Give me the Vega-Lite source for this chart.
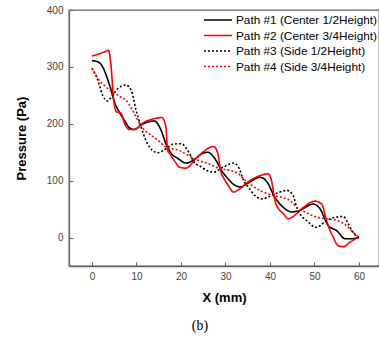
{
  "$schema": "https://vega.github.io/schema/vega-lite/v6.json",
  "width": 310,
  "height": 256,
  "autosize": {"type": "none"},
  "padding": {"left": 69, "top": 10, "right": 0, "bottom": 72},
  "title": {"text": "(b)", "orient": "bottom", "font": "Liberation Serif", "fontSize": 14, "fontWeight": "normal", "color": "#000", "offset": 15, "dx": -24},
  "data": {"values": [
    {"path": "Path #1 (Center 1/2Height)", "x": 0, "y": 311},
    {"path": "Path #1 (Center 1/2Height)", "x": 1.3, "y": 309},
    {"path": "Path #1 (Center 1/2Height)", "x": 2.4, "y": 300},
    {"path": "Path #1 (Center 1/2Height)", "x": 3.3, "y": 283},
    {"path": "Path #1 (Center 1/2Height)", "x": 4.3, "y": 259},
    {"path": "Path #1 (Center 1/2Height)", "x": 5.0, "y": 239},
    {"path": "Path #1 (Center 1/2Height)", "x": 6.1, "y": 221},
    {"path": "Path #1 (Center 1/2Height)", "x": 7.3, "y": 206},
    {"path": "Path #1 (Center 1/2Height)", "x": 8.4, "y": 193},
    {"path": "Path #1 (Center 1/2Height)", "x": 9.5, "y": 190},
    {"path": "Path #1 (Center 1/2Height)", "x": 11.0, "y": 198},
    {"path": "Path #1 (Center 1/2Height)", "x": 12.5, "y": 203},
    {"path": "Path #1 (Center 1/2Height)", "x": 14.0, "y": 205},
    {"path": "Path #1 (Center 1/2Height)", "x": 15.5, "y": 189},
    {"path": "Path #1 (Center 1/2Height)", "x": 16.6, "y": 165},
    {"path": "Path #1 (Center 1/2Height)", "x": 17.8, "y": 148},
    {"path": "Path #1 (Center 1/2Height)", "x": 19.3, "y": 139},
    {"path": "Path #1 (Center 1/2Height)", "x": 21.1, "y": 131},
    {"path": "Path #1 (Center 1/2Height)", "x": 23.0, "y": 137},
    {"path": "Path #1 (Center 1/2Height)", "x": 24.4, "y": 146},
    {"path": "Path #1 (Center 1/2Height)", "x": 26.0, "y": 150},
    {"path": "Path #1 (Center 1/2Height)", "x": 27.6, "y": 139},
    {"path": "Path #1 (Center 1/2Height)", "x": 29.1, "y": 118},
    {"path": "Path #1 (Center 1/2Height)", "x": 30.6, "y": 103},
    {"path": "Path #1 (Center 1/2Height)", "x": 32.1, "y": 92},
    {"path": "Path #1 (Center 1/2Height)", "x": 33.3, "y": 89},
    {"path": "Path #1 (Center 1/2Height)", "x": 35.5, "y": 98},
    {"path": "Path #1 (Center 1/2Height)", "x": 37.8, "y": 106},
    {"path": "Path #1 (Center 1/2Height)", "x": 39.3, "y": 98},
    {"path": "Path #1 (Center 1/2Height)", "x": 41.1, "y": 71},
    {"path": "Path #1 (Center 1/2Height)", "x": 43.0, "y": 53},
    {"path": "Path #1 (Center 1/2Height)", "x": 44.9, "y": 45},
    {"path": "Path #1 (Center 1/2Height)", "x": 46.7, "y": 48},
    {"path": "Path #1 (Center 1/2Height)", "x": 49.7, "y": 59},
    {"path": "Path #1 (Center 1/2Height)", "x": 51.2, "y": 51},
    {"path": "Path #1 (Center 1/2Height)", "x": 53.1, "y": 21},
    {"path": "Path #1 (Center 1/2Height)", "x": 55.0, "y": 12},
    {"path": "Path #1 (Center 1/2Height)", "x": 56.9, "y": -2},
    {"path": "Path #1 (Center 1/2Height)", "x": 58.4, "y": -2},
    {"path": "Path #1 (Center 1/2Height)", "x": 60, "y": 0},

    {"path": "Path #2 (Center 3/4Height)", "x": 0, "y": 319},
    {"path": "Path #2 (Center 3/4Height)", "x": 1.6, "y": 323},
    {"path": "Path #2 (Center 3/4Height)", "x": 3.0, "y": 327},
    {"path": "Path #2 (Center 3/4Height)", "x": 3.7, "y": 329},
    {"path": "Path #2 (Center 3/4Height)", "x": 4.3, "y": 300},
    {"path": "Path #2 (Center 3/4Height)", "x": 4.8, "y": 247},
    {"path": "Path #2 (Center 3/4Height)", "x": 5.5, "y": 221},
    {"path": "Path #2 (Center 3/4Height)", "x": 6.5, "y": 219},
    {"path": "Path #2 (Center 3/4Height)", "x": 7.3, "y": 201},
    {"path": "Path #2 (Center 3/4Height)", "x": 8.4, "y": 190},
    {"path": "Path #2 (Center 3/4Height)", "x": 9.5, "y": 190},
    {"path": "Path #2 (Center 3/4Height)", "x": 11.8, "y": 203},
    {"path": "Path #2 (Center 3/4Height)", "x": 14.0, "y": 209},
    {"path": "Path #2 (Center 3/4Height)", "x": 15.7, "y": 211},
    {"path": "Path #2 (Center 3/4Height)", "x": 16.6, "y": 195},
    {"path": "Path #2 (Center 3/4Height)", "x": 17.0, "y": 153},
    {"path": "Path #2 (Center 3/4Height)", "x": 17.5, "y": 147},
    {"path": "Path #2 (Center 3/4Height)", "x": 18.7, "y": 133},
    {"path": "Path #2 (Center 3/4Height)", "x": 19.6, "y": 124},
    {"path": "Path #2 (Center 3/4Height)", "x": 21.1, "y": 122},
    {"path": "Path #2 (Center 3/4Height)", "x": 23.4, "y": 139},
    {"path": "Path #2 (Center 3/4Height)", "x": 25.2, "y": 152},
    {"path": "Path #2 (Center 3/4Height)", "x": 27.3, "y": 160},
    {"path": "Path #2 (Center 3/4Height)", "x": 28.2, "y": 150},
    {"path": "Path #2 (Center 3/4Height)", "x": 28.9, "y": 118},
    {"path": "Path #2 (Center 3/4Height)", "x": 29.7, "y": 103},
    {"path": "Path #2 (Center 3/4Height)", "x": 30.6, "y": 92},
    {"path": "Path #2 (Center 3/4Height)", "x": 31.8, "y": 80},
    {"path": "Path #2 (Center 3/4Height)", "x": 32.9, "y": 84},
    {"path": "Path #2 (Center 3/4Height)", "x": 35.1, "y": 98},
    {"path": "Path #2 (Center 3/4Height)", "x": 37.8, "y": 109},
    {"path": "Path #2 (Center 3/4Height)", "x": 39.6, "y": 112},
    {"path": "Path #2 (Center 3/4Height)", "x": 40.4, "y": 98},
    {"path": "Path #2 (Center 3/4Height)", "x": 41.1, "y": 65},
    {"path": "Path #2 (Center 3/4Height)", "x": 41.9, "y": 51},
    {"path": "Path #2 (Center 3/4Height)", "x": 43.0, "y": 42},
    {"path": "Path #2 (Center 3/4Height)", "x": 44.1, "y": 33},
    {"path": "Path #2 (Center 3/4Height)", "x": 45.2, "y": 37},
    {"path": "Path #2 (Center 3/4Height)", "x": 47.5, "y": 53},
    {"path": "Path #2 (Center 3/4Height)", "x": 50.1, "y": 64},
    {"path": "Path #2 (Center 3/4Height)", "x": 51.6, "y": 59},
    {"path": "Path #2 (Center 3/4Height)", "x": 52.7, "y": 30},
    {"path": "Path #2 (Center 3/4Height)", "x": 53.5, "y": 12},
    {"path": "Path #2 (Center 3/4Height)", "x": 54.2, "y": 1},
    {"path": "Path #2 (Center 3/4Height)", "x": 55.3, "y": -14},
    {"path": "Path #2 (Center 3/4Height)", "x": 56.5, "y": -16},
    {"path": "Path #2 (Center 3/4Height)", "x": 58.0, "y": -8},
    {"path": "Path #2 (Center 3/4Height)", "x": 60, "y": 1},

    {"path": "Path #3 (Side 1/2Height)", "x": 0, "y": 298},
    {"path": "Path #3 (Side 1/2Height)", "x": 1.3, "y": 277},
    {"path": "Path #3 (Side 1/2Height)", "x": 2.4, "y": 250},
    {"path": "Path #3 (Side 1/2Height)", "x": 3.5, "y": 240},
    {"path": "Path #3 (Side 1/2Height)", "x": 4.6, "y": 250},
    {"path": "Path #3 (Side 1/2Height)", "x": 5.8, "y": 262},
    {"path": "Path #3 (Side 1/2Height)", "x": 7.6, "y": 268},
    {"path": "Path #3 (Side 1/2Height)", "x": 8.8, "y": 259},
    {"path": "Path #3 (Side 1/2Height)", "x": 9.9, "y": 224},
    {"path": "Path #3 (Side 1/2Height)", "x": 11.0, "y": 195},
    {"path": "Path #3 (Side 1/2Height)", "x": 12.1, "y": 171},
    {"path": "Path #3 (Side 1/2Height)", "x": 13.6, "y": 153},
    {"path": "Path #3 (Side 1/2Height)", "x": 14.8, "y": 149},
    {"path": "Path #3 (Side 1/2Height)", "x": 16.6, "y": 156},
    {"path": "Path #3 (Side 1/2Height)", "x": 18.1, "y": 164},
    {"path": "Path #3 (Side 1/2Height)", "x": 20.0, "y": 165},
    {"path": "Path #3 (Side 1/2Height)", "x": 21.9, "y": 148},
    {"path": "Path #3 (Side 1/2Height)", "x": 23.0, "y": 132},
    {"path": "Path #3 (Side 1/2Height)", "x": 24.6, "y": 124},
    {"path": "Path #3 (Side 1/2Height)", "x": 25.8, "y": 118},
    {"path": "Path #3 (Side 1/2Height)", "x": 27.3, "y": 115},
    {"path": "Path #3 (Side 1/2Height)", "x": 29.5, "y": 124},
    {"path": "Path #3 (Side 1/2Height)", "x": 31.8, "y": 131},
    {"path": "Path #3 (Side 1/2Height)", "x": 33.1, "y": 121},
    {"path": "Path #3 (Side 1/2Height)", "x": 34.0, "y": 101},
    {"path": "Path #3 (Side 1/2Height)", "x": 35.1, "y": 89},
    {"path": "Path #3 (Side 1/2Height)", "x": 36.6, "y": 74},
    {"path": "Path #3 (Side 1/2Height)", "x": 38.1, "y": 68},
    {"path": "Path #3 (Side 1/2Height)", "x": 40.4, "y": 74},
    {"path": "Path #3 (Side 1/2Height)", "x": 42.2, "y": 80},
    {"path": "Path #3 (Side 1/2Height)", "x": 43.8, "y": 83},
    {"path": "Path #3 (Side 1/2Height)", "x": 45.2, "y": 74},
    {"path": "Path #3 (Side 1/2Height)", "x": 46.0, "y": 53},
    {"path": "Path #3 (Side 1/2Height)", "x": 46.7, "y": 42},
    {"path": "Path #3 (Side 1/2Height)", "x": 48.2, "y": 30},
    {"path": "Path #3 (Side 1/2Height)", "x": 50.5, "y": 18},
    {"path": "Path #3 (Side 1/2Height)", "x": 52.7, "y": 30},
    {"path": "Path #3 (Side 1/2Height)", "x": 55.0, "y": 36},
    {"path": "Path #3 (Side 1/2Height)", "x": 56.5, "y": 37},
    {"path": "Path #3 (Side 1/2Height)", "x": 57.6, "y": 24},
    {"path": "Path #3 (Side 1/2Height)", "x": 58.4, "y": 12},
    {"path": "Path #3 (Side 1/2Height)", "x": 60, "y": 0},

    {"path": "Path #4 (Side 3/4Height)", "x": 0, "y": 297},
    {"path": "Path #4 (Side 3/4Height)", "x": 1.6, "y": 277},
    {"path": "Path #4 (Side 3/4Height)", "x": 3.1, "y": 265},
    {"path": "Path #4 (Side 3/4Height)", "x": 4.6, "y": 256},
    {"path": "Path #4 (Side 3/4Height)", "x": 6.5, "y": 247},
    {"path": "Path #4 (Side 3/4Height)", "x": 7.6, "y": 242},
    {"path": "Path #4 (Side 3/4Height)", "x": 9.1, "y": 224},
    {"path": "Path #4 (Side 3/4Height)", "x": 10.3, "y": 206},
    {"path": "Path #4 (Side 3/4Height)", "x": 11.8, "y": 189},
    {"path": "Path #4 (Side 3/4Height)", "x": 13.3, "y": 180},
    {"path": "Path #4 (Side 3/4Height)", "x": 14.8, "y": 171},
    {"path": "Path #4 (Side 3/4Height)", "x": 16.6, "y": 159},
    {"path": "Path #4 (Side 3/4Height)", "x": 18.1, "y": 156},
    {"path": "Path #4 (Side 3/4Height)", "x": 19.6, "y": 153},
    {"path": "Path #4 (Side 3/4Height)", "x": 21.5, "y": 145},
    {"path": "Path #4 (Side 3/4Height)", "x": 23.4, "y": 137},
    {"path": "Path #4 (Side 3/4Height)", "x": 26.1, "y": 130},
    {"path": "Path #4 (Side 3/4Height)", "x": 28.8, "y": 121},
    {"path": "Path #4 (Side 3/4Height)", "x": 31.0, "y": 118},
    {"path": "Path #4 (Side 3/4Height)", "x": 32.9, "y": 112},
    {"path": "Path #4 (Side 3/4Height)", "x": 34.4, "y": 101},
    {"path": "Path #4 (Side 3/4Height)", "x": 36.2, "y": 90},
    {"path": "Path #4 (Side 3/4Height)", "x": 38.5, "y": 80},
    {"path": "Path #4 (Side 3/4Height)", "x": 40.7, "y": 74},
    {"path": "Path #4 (Side 3/4Height)", "x": 43.0, "y": 70},
    {"path": "Path #4 (Side 3/4Height)", "x": 44.5, "y": 65},
    {"path": "Path #4 (Side 3/4Height)", "x": 46.0, "y": 53},
    {"path": "Path #4 (Side 3/4Height)", "x": 47.9, "y": 45},
    {"path": "Path #4 (Side 3/4Height)", "x": 50.1, "y": 37},
    {"path": "Path #4 (Side 3/4Height)", "x": 52.7, "y": 33},
    {"path": "Path #4 (Side 3/4Height)", "x": 55.0, "y": 30},
    {"path": "Path #4 (Side 3/4Height)", "x": 57.2, "y": 21},
    {"path": "Path #4 (Side 3/4Height)", "x": 58.7, "y": 9},
    {"path": "Path #4 (Side 3/4Height)", "x": 60, "y": 0}
  ]},
  "mark": {"type": "line", "interpolate": "monotone", "strokeWidth": 1.6, "clip": true},
  "encoding": {
    "x": {"field": "x", "type": "quantitative",
      "scale": {"domain": [-5.17, 64.5], "nice": false, "zero": false},
      "axis": {"title": "X (mm)", "values": [0, 10, 20, 30, 40, 50, 60], "tickSize": -4, "labelPadding": 9, "titlePadding": 10}},
    "y": {"field": "y", "type": "quantitative",
      "scale": {"domain": [-50, 400], "nice": false, "zero": false},
      "axis": {"title": "Pressure (Pa)", "values": [0, 100, 200, 300, 400], "tickSize": -4, "labelPadding": 10, "titlePadding": 18}},
    "color": {"field": "path", "type": "nominal",
      "scale": {"domain": ["Path #1 (Center 1/2Height)", "Path #2 (Center 3/4Height)", "Path #3 (Side 1/2Height)", "Path #4 (Side 3/4Height)"], "range": ["#000000", "#ff0000", "#000000", "#ff0000"]},
      "legend": {"title": null, "orient": "top-right", "offset": 2}},
    "strokeDash": {"field": "path", "type": "nominal",
      "scale": {"domain": ["Path #1 (Center 1/2Height)", "Path #2 (Center 3/4Height)", "Path #3 (Side 1/2Height)", "Path #4 (Side 3/4Height)"], "range": [[1, 0], [1, 0], [2, 2], [2, 2]]},
      "legend": {"title": null, "orient": "top-right", "offset": 2}}
  },
  "config": {
    "view": {"stroke": "#666666", "strokeWidth": 1.3},
    "axis": {"grid": false, "domainColor": "#666666", "domainWidth": 1.3, "tickColor": "#666666", "tickWidth": 1,
      "labelFont": "Liberation Sans", "labelFontSize": 10, "labelColor": "#444444",
      "titleFont": "Liberation Sans", "titleFontSize": 13, "titleFontWeight": "bold", "titleColor": "#000000"},
    "legend": {"labelFont": "Liberation Sans", "labelFontSize": 11.8, "labelColor": "#000000", "symbolType": "M-2,0H2", "symbolSize": 196, "symbolStrokeWidth": 1.6, "rowPadding": 0.5, "labelOffset": 10, "padding": 0, "labelLimit": 300}
  }
}
